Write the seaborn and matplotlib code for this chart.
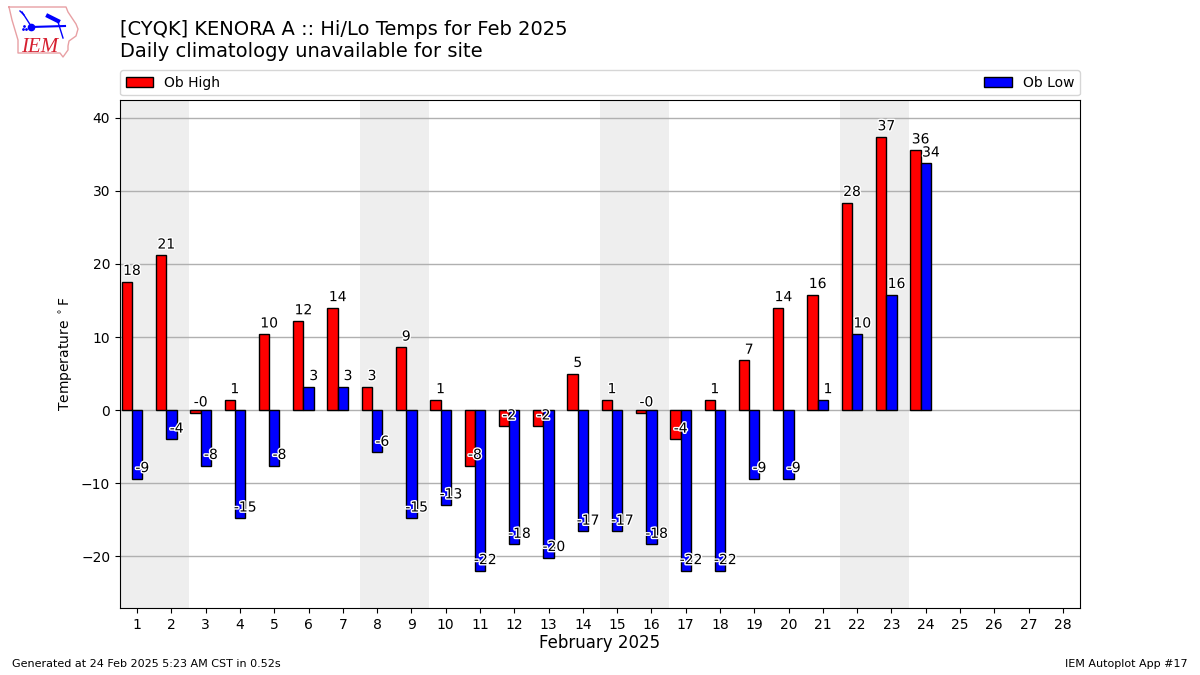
import matplotlib
matplotlib.use("Agg")
import matplotlib.pyplot as plt
import matplotlib.patheffects as pe
import numpy as np
import seaborn as sns

# Daily values for the site, degrees F
days = np.arange(1, 29)
highs = [17.6, 21.2, -0.4, 1.4, 10.4, 12.2, 14.0, 3.2, 8.6, 1.4, -7.6, -2.2, -2.2, 5.0,
         1.4, -0.4, -4.0, 1.4, 6.8, 14.0, 15.8, 28.4, 37.4, 35.6,
         np.nan, np.nan, np.nan, np.nan]
lows = [-9.4, -4.0, -7.6, -14.8, -7.6, 3.2, 3.2, -5.8, -14.8, -13.0, -22.0, -18.4, -20.2, -16.6,
        -16.6, -18.4, -22.0, -22.0, -9.4, -9.4, 1.4, 10.4, 15.8, 33.8,
        np.nan, np.nan, np.nan, np.nan]
weekends = [(1, 2), (8, 9), (15, 16), (22, 23)]

fig = plt.figure(figsize=(12, 6.75), dpi=100)
ax = fig.add_axes([0.1, 67 / 675, 0.8, 508 / 675])

# shaded weekends
for first, last in weekends:
    ax.axvspan(first - 0.5, last + 0.5, color="#eeeeee", lw=0, zorder=0)

# highs sit left of the tick, lows are centered on it
sns.barplot(x=days - 0.3, y=highs, native_scale=True, width=0.3, color="red", saturation=1,
            edgecolor="black", linewidth=1, errorbar=None, label="Ob High", ax=ax, zorder=2)
sns.barplot(x=days, y=lows, native_scale=True, width=0.3, color="blue", saturation=1,
            edgecolor="black", linewidth=1, errorbar=None, label="Ob Low", ax=ax, zorder=2)

# value labels
stroke = [pe.withStroke(linewidth=2, foreground="white")]
for day, val in zip(days, highs):
    if not np.isnan(val):
        ax.text(day - 0.15, val + 0.5, f"{val:.0f}", ha="center", va="bottom", fontsize=10,
                path_effects=stroke, zorder=5)
for day, val in zip(days, lows):
    if not np.isnan(val):
        ax.text(day + 0.15, val + 0.5, f"{val:.0f}", ha="center", va="bottom", fontsize=10,
                path_effects=stroke, zorder=5)

ax.set_xlim(0.5, 28.5)
ax.set_ylim(-27.1, 42.45)
ax.set_xticks(days)
ax.set_xticklabels([str(d) for d in days])
ax.set_yticks([-20, -10, 0, 10, 20, 30, 40])
ax.set_axisbelow(True)
ax.grid(axis="y", color="#b0b0b0", lw=1)
ax.grid(axis="x", visible=False)
ax.tick_params(labelsize=10)
ax.set_xlabel("February 2025", fontsize=12, labelpad=2)
ax.set_ylabel(r"Temperature $^\circ$F", fontsize=10)
ax.legend(loc="lower left", bbox_to_anchor=(0, 1.009, 1, 0.05), mode="expand", ncol=2,
          borderaxespad=0, fontsize=10)

fig.text(0.1, 0.9096, "[CYQK] KENORA A :: Hi/Lo Temps for Feb 2025\nDaily climatology unavailable for site",
         fontsize=14, ha="left", va="bottom", linespacing=1.17)
fig.text(0.01, 0.0125, "Generated at 24 Feb 2025 5:23 AM CST in 0.52s", fontsize=8)
fig.text(0.99, 0.0125, "IEM Autoplot App #17", fontsize=8, ha="right")

# rough IEM logo, in pixels from the top left corner
logo = fig.add_axes([0, 1 - 62 / 675, 90 / 1200, 62 / 675])
logo.set_xlim(0, 90)
logo.set_ylim(62, 0)
logo.axis("off")
outline_x = [9, 66, 68, 72, 76, 78, 76, 69, 68, 68, 63, 60, 18, 18, 15, 12, 9]
outline_y = [7, 7, 12, 18, 24, 29, 36, 41, 46, 50, 57, 53, 53, 40, 30, 20, 7]
logo.plot(outline_x, outline_y, color="#e8a0a4", lw=1)
logo.plot([31, 65], [27, 26], color="blue", lw=1.5)
logo.plot([22, 31], [12, 26], color="blue", lw=1)
logo.plot([20, 24], [11, 15], color="blue", lw=1)
logo.plot([58, 63], [22, 38], color="blue", lw=1)
logo.plot([48, 58], [16, 21], color="blue", lw=3)
logo.plot([31], [27], "o", color="blue", ms=4.5)
logo.plot([23, 26, 24], [29, 29, 26], ".", color="blue", ms=2)
logo.text(21, 52, "IEM", color="#d62030", fontsize=15, family="Liberation Serif", style="italic",
          ha="left", va="baseline")

fig.savefig("out.png", dpi=100)
